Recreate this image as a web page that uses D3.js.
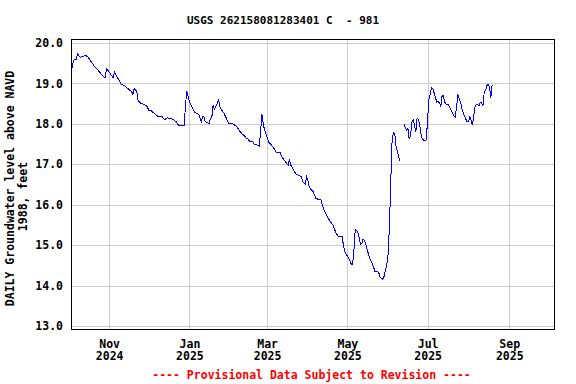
<!DOCTYPE html>
<html>
<head>
<meta charset="utf-8">
<script src="https://cdn.jsdelivr.net/npm/d3@7"></script>
<style>
  body { margin: 0; background: #fff; }
  text { font-family: "DejaVu Sans Mono", monospace; font-weight: bold; }
</style>
</head>
<body>
<div id="chart"></div>
<script>
const title = "USGS 262158081283401 C  - 981";
const yLabel = ["DAILY Groundwater level above NAVD", "1988, feet"];
const footer = "---- Provisional Data Subject to Revision ----";

const yTicks = [13, 14, 15, 16, 17, 18, 19, 20];
const xTicks = ["2024-11-01", "2025-01-01", "2025-03-01", "2025-05-01", "2025-07-01", "2025-09-01"];

const dates = [
  "2024-10-03","2024-10-04","2024-10-05","2024-10-07","2024-10-08","2024-10-10","2024-10-13","2024-10-14",
  "2024-10-16","2024-10-17","2024-10-19","2024-10-21","2024-10-24","2024-10-26","2024-10-28","2024-10-29",
  "2024-10-30","2024-11-01","2024-11-03","2024-11-04","2024-11-05","2024-11-07","2024-11-09","2024-11-10",
  "2024-11-13","2024-11-15","2024-11-18","2024-11-19","2024-11-20","2024-11-22","2024-11-23","2024-11-25",
  "2024-11-28","2024-11-30","2024-12-01","2024-12-03","2024-12-06","2024-12-08","2024-12-11","2024-12-13",
  "2024-12-15","2024-12-16","2024-12-19","2024-12-22","2024-12-24","2024-12-28","2024-12-29","2024-12-30",
  "2024-12-31","2025-01-01","2025-01-03","2025-01-05","2025-01-08","2025-01-10","2025-01-11","2025-01-12",
  "2025-01-13","2025-01-16","2025-01-17","2025-01-18","2025-01-19","2025-01-20","2025-01-22","2025-01-23",
  "2025-01-24","2025-01-25","2025-01-27","2025-01-29","2025-01-30","2025-01-31","2025-02-03","2025-02-06",
  "2025-02-08","2025-02-10","2025-02-12","2025-02-13","2025-02-14","2025-02-16","2025-02-18","2025-02-19",
  "2025-02-21","2025-02-23","2025-02-24","2025-02-25","2025-02-26","2025-02-27","2025-03-01","2025-03-02",
  "2025-03-05","2025-03-07","2025-03-08","2025-03-11","2025-03-12","2025-03-15","2025-03-17","2025-03-18",
  "2025-03-19","2025-03-21","2025-03-23","2025-03-26","2025-03-27","2025-03-28","2025-03-30","2025-03-31",
  "2025-04-01","2025-04-02","2025-04-05","2025-04-07","2025-04-09","2025-04-11","2025-04-12","2025-04-15",
  "2025-04-18","2025-04-20","2025-04-22","2025-04-24","2025-04-27","2025-04-28","2025-04-29","2025-05-02",
  "2025-05-04","2025-05-05","2025-05-06","2025-05-07","2025-05-08","2025-05-09","2025-05-10","2025-05-11",
  "2025-05-12","2025-05-13","2025-05-14","2025-05-15","2025-05-16","2025-05-17","2025-05-18","2025-05-19",
  "2025-05-20","2025-05-21","2025-05-22","2025-05-23","2025-05-24","2025-05-25","2025-05-26","2025-05-27",
  "2025-05-28","2025-05-29","2025-05-30","2025-05-31","2025-06-01","2025-06-02","2025-06-03","2025-06-04",
  "2025-06-05","2025-06-06","2025-06-07","2025-06-08","2025-06-09","2025-06-10","2025-06-11","2025-06-13",
  "2025-06-14","2025-06-15","2025-06-16","2025-06-17","2025-06-18","2025-06-19","2025-06-20","2025-06-21",
  "2025-06-22","2025-06-23","2025-06-24","2025-06-25","2025-06-26","2025-06-27","2025-06-28","2025-06-29",
  "2025-06-30","2025-07-01","2025-07-02","2025-07-03","2025-07-04","2025-07-05","2025-07-06","2025-07-07",
  "2025-07-08","2025-07-09","2025-07-10","2025-07-11","2025-07-12","2025-07-13","2025-07-14","2025-07-15",
  "2025-07-16","2025-07-17","2025-07-18","2025-07-19","2025-07-20","2025-07-21","2025-07-22","2025-07-23",
  "2025-07-24","2025-07-25","2025-07-26","2025-07-27","2025-07-28","2025-07-29","2025-07-30","2025-07-31",
  "2025-08-01","2025-08-02","2025-08-03","2025-08-04","2025-08-05","2025-08-06","2025-08-07","2025-08-08",
  "2025-08-09","2025-08-10","2025-08-11","2025-08-12","2025-08-13","2025-08-14","2025-08-15","2025-08-16",
  "2025-08-17","2025-08-18","2025-08-19"
];

const levels = [
  19.25,19.43,19.58,19.60,19.73,19.65,19.68,19.70,
  19.65,19.60,19.51,19.41,19.31,19.23,19.16,19.15,
  19.37,19.28,19.19,19.14,19.28,19.16,19.06,18.99,
  18.94,18.88,18.80,18.73,18.88,18.80,18.57,18.51,
  18.48,18.42,18.34,18.32,18.24,18.19,18.19,18.10,
  18.15,18.14,18.12,18.05,17.95,17.95,18.47,18.81,
  18.67,18.55,18.42,18.28,18.24,18.05,18.19,18.18,
  18.05,18.01,18.14,18.16,18.47,18.36,18.49,18.61,
  18.44,18.36,18.28,18.14,18.07,18.01,18.00,17.93,
  17.83,17.75,17.70,17.64,17.64,17.56,17.56,17.50,
  17.48,17.45,17.77,18.24,18.03,17.85,17.68,17.56,
  17.45,17.35,17.29,17.29,17.19,17.06,16.98,17.12,
  16.98,16.86,16.76,16.71,16.69,16.57,16.51,16.69,
  16.61,16.43,16.32,16.16,16.13,16.12,15.97,15.75,
  15.58,15.50,15.33,15.21,15.21,15.00,14.84,14.67,
  14.53,14.53,14.88,15.39,15.37,15.30,15.17,15.02,
  15.05,15.15,15.12,15.03,14.90,14.78,14.68,14.60,
  14.53,14.45,14.34,14.34,14.34,14.30,14.20,14.18,
  14.15,14.24,14.40,14.52,14.80,15.50,16.60,17.60,
  17.78,17.77,17.45,17.31,17.18,17.08,null,18.00,
  17.90,17.85,17.88,17.62,17.72,18.03,18.10,17.97,
  17.80,18.14,18.10,17.97,17.73,17.63,17.60,17.57,
  17.62,18.14,18.61,18.74,18.90,18.86,18.76,18.64,
  18.54,18.55,18.51,18.44,18.70,18.69,18.54,18.49,
  18.47,18.47,18.39,18.32,18.27,18.19,18.17,18.42,
  18.73,18.61,18.54,18.37,18.27,18.19,18.12,18.05,
  18.05,18.17,18.10,17.97,18.19,18.42,18.49,18.47,
  18.44,18.54,18.51,18.44,18.79,18.82,18.95,18.98,
  18.90,18.65,18.96
];

const width = 576;
const height = 384;
const plot = { left: 71, right: 554, top: 39, bottom: 329 };
const parse = d3.utcParse("%Y-%m-%d");

const series = dates.map((d, i) => ({ date: parse(d), value: levels[i] }));

const x = d3.scaleUtc()
  .domain([parse("2024-10-03"), parse("2025-10-05")])
  .range([plot.left, plot.right]);

const y = d3.scaleLinear()
  .domain([12.925, 20.1])
  .range([plot.bottom, plot.top]);

const svg = d3.select("#chart")
  .append("svg")
  .attr("width", width)
  .attr("height", height)
  .style("display", "block");

svg.append("rect")
  .attr("width", width)
  .attr("height", height)
  .attr("fill", "#fff");

// grid
svg.append("g")
  .selectAll("line")
  .data(yTicks)
  .join("line")
  .attr("x1", plot.left)
  .attr("x2", plot.right)
  .attr("y1", d => Math.round(y(d)) + 0.5)
  .attr("y2", d => Math.round(y(d)) + 0.5)
  .attr("stroke", "#cccccc");

svg.append("g")
  .selectAll("line")
  .data(xTicks)
  .join("line")
  .attr("x1", d => Math.round(x(parse(d))) + 0.5)
  .attr("x2", d => Math.round(x(parse(d))) + 0.5)
  .attr("y1", plot.top)
  .attr("y2", plot.bottom)
  .attr("stroke", "#cccccc");

// data line
const line = d3.line()
  .defined(d => d.value != null)
  .x(d => x(d.date))
  .y(d => y(d.value));

svg.append("path")
  .datum(series)
  .attr("d", line)
  .attr("fill", "none")
  .attr("stroke", "#0000ff")
  .attr("stroke-width", 1)
  .attr("shape-rendering", "crispEdges");

// frame
svg.append("rect")
  .attr("x", plot.left + 0.5)
  .attr("y", plot.top + 0.5)
  .attr("width", plot.right - plot.left)
  .attr("height", plot.bottom - plot.top)
  .attr("fill", "none")
  .attr("stroke", "#000");

// y axis
const yAxis = svg.append("g")
  .attr("transform", `translate(${plot.left},0)`)
  .call(d3.axisLeft(y).tickValues(yTicks).tickFormat(d3.format(".1f")).tickSize(0).tickPadding(8));
yAxis.select(".domain").remove();
yAxis.selectAll("text")
  .attr("font-family", null)
  .attr("font-size", "11.5px")
  .attr("fill", "#000");

// x axis: month on first line, year below
const xAxis = svg.append("g")
  .attr("transform", `translate(0,${plot.bottom})`)
  .call(d3.axisBottom(x).tickValues(xTicks.map(parse)).tickSize(0).tickFormat(d3.utcFormat("%b")));
xAxis.select(".domain").remove();
xAxis.selectAll("text")
  .attr("font-family", null)
  .attr("font-size", "11.5px")
  .attr("fill", "#000")
  .attr("dy", null)
  .attr("y", 18.5);
xAxis.selectAll(".tick")
  .append("text")
  .attr("y", 31)
  .attr("text-anchor", "middle")
  .attr("font-size", "11.5px")
  .attr("fill", "#000")
  .text(d => d3.utcFormat("%Y")(d));

// title
svg.append("text")
  .attr("x", 283)
  .attr("y", 24)
  .attr("text-anchor", "middle")
  .attr("font-size", "11px")
  .style("white-space", "pre")
  .text(title);

// y label
svg.append("text")
  .attr("transform", "translate(13.5,188.5) rotate(-90)")
  .attr("text-anchor", "middle")
  .attr("font-size", "11.5px")
  .text(yLabel[0]);
svg.append("text")
  .attr("transform", "translate(27,196.5) rotate(-90)")
  .attr("text-anchor", "middle")
  .attr("font-size", "11.5px")
  .text(yLabel[1]);

// footer
svg.append("text")
  .attr("x", 311.5)
  .attr("y", 378.5)
  .attr("text-anchor", "middle")
  .attr("font-size", "11.5px")
  .attr("fill", "#ff0000")
  .text(footer);
</script>
</body>
</html>
